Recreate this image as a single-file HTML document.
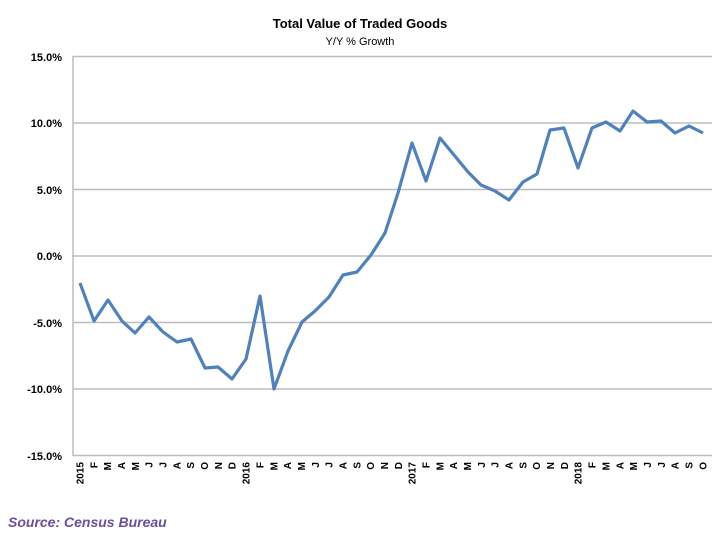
<!DOCTYPE html>
<html><head><style>
body{margin:0;background:#fff;}
svg{display:block;font-family:"Liberation Sans",sans-serif;}
</style></head><body>
<svg width="720" height="540" xmlns="http://www.w3.org/2000/svg">
<text x="360" y="28" text-anchor="middle" font-size="13" font-weight="bold">Total Value of Traded Goods</text>
<text x="360" y="45" text-anchor="middle" font-size="11">Y/Y % Growth</text>
<g stroke="#bdbdbd" stroke-width="1.5">
<line x1="73" y1="56.5" x2="712" y2="56.5"/>
<line x1="73" y1="123" x2="712" y2="123"/>
<line x1="73" y1="189.5" x2="712" y2="189.5"/>
<line x1="73" y1="256" x2="712" y2="256"/>
<line x1="73" y1="322.5" x2="712" y2="322.5"/>
<line x1="73" y1="389" x2="712" y2="389"/>
<line x1="73" y1="455.5" x2="712" y2="455.5"/>
<line x1="73" y1="56" x2="73" y2="456"/>
</g>
<g font-size="11" font-weight="bold" text-anchor="end">
<text x="62" y="61">15.0%</text>
<text x="62" y="127">10.0%</text>
<text x="62" y="194">5.0%</text>
<text x="62" y="260">0.0%</text>
<text x="62" y="327">-5.0%</text>
<text x="62" y="393">-10.0%</text>
<text x="62" y="460">-15.0%</text>
</g>
<polyline fill="none" stroke="#4f81bd" stroke-width="3.2" stroke-linejoin="round" points="80,283 94,321 108,300 122,321 135,333 149,317 163,332 177,342 191,339 205,368 218,367 232,379 246,359 260,296 274,389 288,351 302,322 315,311 329,297 343,275 357,272 371,255 385,233 398,193 412,143 426,181 440,138 454,155 468,172 481,185 495,191 509,200 523,182 537,174 550,130 564,128 578,168 592,128 606,122 620,131 633,111 647,122 661,121 675,133 689,126 703,133"/>
<g font-size="10" font-weight="bold" text-anchor="end">
<text transform="translate(83.5,462) rotate(-90)">2015</text>
<text transform="translate(97.3,462) rotate(-90)">F</text>
<text transform="translate(111.2,462) rotate(-90)">M</text>
<text transform="translate(125.0,462) rotate(-90)">A</text>
<text transform="translate(138.9,462) rotate(-90)">M</text>
<text transform="translate(152.7,462) rotate(-90)">J</text>
<text transform="translate(166.5,462) rotate(-90)">J</text>
<text transform="translate(180.4,462) rotate(-90)">A</text>
<text transform="translate(194.2,462) rotate(-90)">S</text>
<text transform="translate(208.1,462) rotate(-90)">O</text>
<text transform="translate(221.9,462) rotate(-90)">N</text>
<text transform="translate(235.7,462) rotate(-90)">D</text>
<text transform="translate(249.6,462) rotate(-90)">2016</text>
<text transform="translate(263.4,462) rotate(-90)">F</text>
<text transform="translate(277.3,462) rotate(-90)">M</text>
<text transform="translate(291.1,462) rotate(-90)">A</text>
<text transform="translate(304.9,462) rotate(-90)">M</text>
<text transform="translate(318.8,462) rotate(-90)">J</text>
<text transform="translate(332.6,462) rotate(-90)">J</text>
<text transform="translate(346.5,462) rotate(-90)">A</text>
<text transform="translate(360.3,462) rotate(-90)">S</text>
<text transform="translate(374.1,462) rotate(-90)">O</text>
<text transform="translate(388.0,462) rotate(-90)">N</text>
<text transform="translate(401.8,462) rotate(-90)">D</text>
<text transform="translate(415.7,462) rotate(-90)">2017</text>
<text transform="translate(429.5,462) rotate(-90)">F</text>
<text transform="translate(443.3,462) rotate(-90)">M</text>
<text transform="translate(457.2,462) rotate(-90)">A</text>
<text transform="translate(471.0,462) rotate(-90)">M</text>
<text transform="translate(484.9,462) rotate(-90)">J</text>
<text transform="translate(498.7,462) rotate(-90)">J</text>
<text transform="translate(512.5,462) rotate(-90)">A</text>
<text transform="translate(526.4,462) rotate(-90)">S</text>
<text transform="translate(540.2,462) rotate(-90)">O</text>
<text transform="translate(554.1,462) rotate(-90)">N</text>
<text transform="translate(567.9,462) rotate(-90)">D</text>
<text transform="translate(581.7,462) rotate(-90)">2018</text>
<text transform="translate(595.6,462) rotate(-90)">F</text>
<text transform="translate(609.4,462) rotate(-90)">M</text>
<text transform="translate(623.3,462) rotate(-90)">A</text>
<text transform="translate(637.1,462) rotate(-90)">M</text>
<text transform="translate(650.9,462) rotate(-90)">J</text>
<text transform="translate(664.8,462) rotate(-90)">J</text>
<text transform="translate(678.6,462) rotate(-90)">A</text>
<text transform="translate(692.5,462) rotate(-90)">S</text>
<text transform="translate(706.3,462) rotate(-90)">O</text>
</g>
<text x="8" y="527" font-size="14" font-weight="bold" font-style="italic" fill="#6a4f9a">Source: Census Bureau</text>
</svg>
</body></html>
